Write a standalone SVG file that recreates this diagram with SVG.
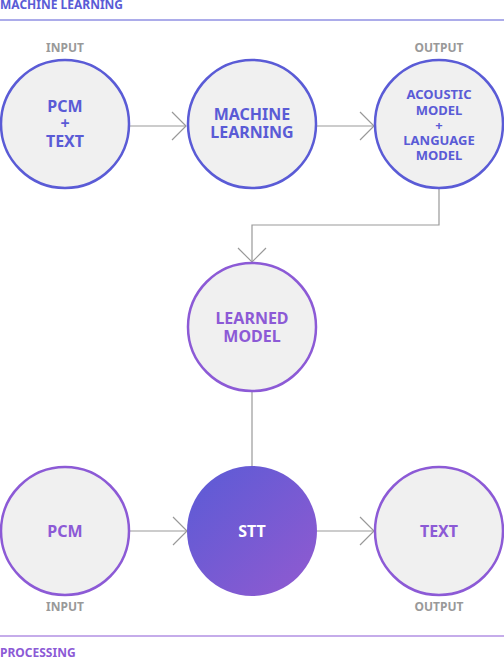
<svg xmlns="http://www.w3.org/2000/svg" width="504" height="658" viewBox="0 0 504 658">
<defs>
<linearGradient id="sttGrad" x1="0" y1="0" x2="1" y2="1">
<stop offset="0" stop-color="#5a5bd6"/>
<stop offset="1" stop-color="#925ad0"/>
</linearGradient>
<marker id="chev" viewBox="0 0 16 30" refX="15" refY="15" markerWidth="16" markerHeight="30" markerUnits="userSpaceOnUse" orient="auto">
<path d="M1,1 L15,15 L1,29" fill="none" stroke="#999" stroke-width="1.2"/>
</marker>
<style>
text{font-family:"Noto Sans","Liberation Sans",sans-serif;font-weight:bold;text-anchor:middle}
.blue circle{fill:#f0f0f0;stroke:#5a5bd6;stroke-width:2.5}
.blue text{fill:#5a5bd6}
.purple circle{fill:#f0f0f0;stroke:#8c5ad6;stroke-width:2.5}
.purple text{fill:#8c5ad6}
.lbl{fill:#999;font-size:12px}
.conn{fill:none;stroke:#999;stroke-width:1.2}
.big{font-size:16px}
.small{font-size:13px}
</style>
</defs>
<rect width="504" height="658" fill="#fff"/>
<g id="section-ml">
<text x="0" y="9" style="text-anchor:start;font-size:12px;fill:#5a5bd6">MACHINE LEARNING</text>
<line x1="0" y1="20" x2="504" y2="20" stroke="#5a5bd6" stroke-width="1.2"/>
</g>
<g id="section-proc">
<line x1="0" y1="636" x2="504" y2="636" stroke="#8c5ad6" stroke-width="1.2"/>
<text x="0" y="657" style="text-anchor:start;font-size:12px;fill:#8c5ad6">PROCESSING</text>
</g>
<g id="labels">
<text class="lbl" x="65" y="52">INPUT</text>
<text class="lbl" x="439" y="52">OUTPUT</text>
<text class="lbl" x="65" y="611">INPUT</text>
<text class="lbl" x="439" y="611">OUTPUT</text>
</g>
<g id="connectors">
<line class="conn" x1="130" y1="126" x2="186" y2="126" marker-end="url(#chev)"/>
<line class="conn" x1="317" y1="126" x2="374" y2="126" marker-end="url(#chev)"/>
<path class="conn" d="M439,189 V225 H252 V262" marker-end="url(#chev)"/>
<line class="conn" x1="252" y1="392" x2="252" y2="467"/>
<line class="conn" x1="130" y1="531" x2="187" y2="531" marker-end="url(#chev)"/>
<line class="conn" x1="317" y1="531" x2="374" y2="531" marker-end="url(#chev)"/>
</g>
<g id="node-pcm-text" class="blue">
<circle cx="65" cy="124" r="64"/>
<text class="big" x="65" y="112">PCM</text>
<text class="big" x="65" y="129">+</text>
<text class="big" x="65" y="147">TEXT</text>
</g>
<g id="node-machine-learning" class="blue">
<circle cx="252" cy="124" r="64"/>
<text class="big" x="252" y="120">MACHINE</text>
<text class="big" x="252" y="138">LEARNING</text>
</g>
<g id="node-models" class="blue">
<circle cx="439" cy="124" r="64"/>
<text class="small" x="439" y="99">ACOUSTIC</text>
<text class="small" x="439" y="115">MODEL</text>
<text class="small" x="439" y="130">+</text>
<text class="small" x="439" y="145">LANGUAGE</text>
<text class="small" x="439" y="160">MODEL</text>
</g>
<g id="node-learned-model" class="purple">
<circle cx="252" cy="327" r="64"/>
<text class="big" x="252" y="324">LEARNED</text>
<text class="big" x="252" y="342">MODEL</text>
</g>
<g id="node-pcm" class="purple">
<circle cx="65" cy="531" r="64"/>
<text class="big" x="65" y="537">PCM</text>
</g>
<g id="node-stt">
<circle cx="252" cy="531" r="65" fill="url(#sttGrad)"/>
<text class="big" x="252" y="537" fill="#fff">STT</text>
</g>
<g id="node-text" class="purple">
<circle cx="439" cy="531" r="64"/>
<text class="big" x="439" y="537">TEXT</text>
</g>
</svg>
